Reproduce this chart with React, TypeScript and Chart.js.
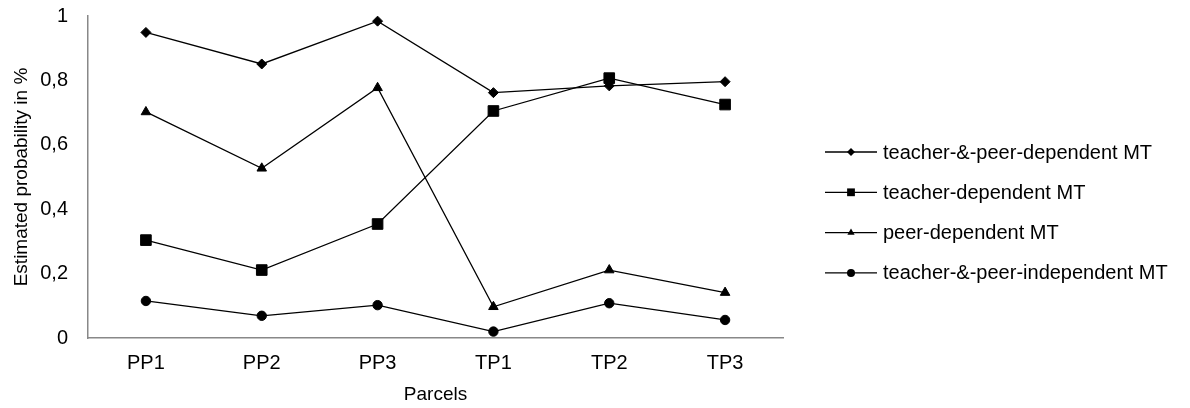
import React, { useEffect, useRef } from "react";
import { Chart, registerables } from "chart.js";

Chart.register(...registerables);

const categories = ["PP1", "PP2", "PP3", "TP1", "TP2", "TP3"];
const seriesNames = [
  "teacher-&-peer-dependent MT",
  "teacher-dependent MT",
  "peer-dependent MT",
  "teacher-&-peer-independent MT",
];
const teacherPeerDependent = [0.949, 0.851, 0.984, 0.762, 0.783, 0.796];
const teacherDependent = [0.304, 0.211, 0.354, 0.705, 0.807, 0.725];
const peerDependent = [0.702, 0.527, 0.777, 0.097, 0.211, 0.141];
const teacherPeerIndependent = [0.115, 0.069, 0.102, 0.02, 0.108, 0.056];
const yTickValues = [0, 0.2, 0.4, 0.6, 0.8, 1];

const FONT = "'Liberation Sans', Arial, sans-serif";

function drawMarker(ctx: CanvasRenderingContext2D, style: string, r: number, x: number, y: number) {
  ctx.beginPath();
  if (style === "rectRot") {
    ctx.moveTo(x, y - r);
    ctx.lineTo(x + r, y);
    ctx.lineTo(x, y + r);
    ctx.lineTo(x - r, y);
    ctx.closePath();
  } else if (style === "rect") {
    const s = r * Math.SQRT1_2;
    ctx.rect(x - s, y - s, 2 * s, 2 * s);
  } else if (style === "triangle") {
    for (let k = 0; k < 3; k++) {
      const a = (k * 2 * Math.PI) / 3;
      const px = x + Math.sin(a) * r;
      const py = y - Math.cos(a) * r;
      if (k === 0) ctx.moveTo(px, py);
      else ctx.lineTo(px, py);
    }
    ctx.closePath();
  } else {
    ctx.arc(x, y, r, 0, Math.PI * 2);
  }
  ctx.fill();
}

const legendPlugin = {
  id: "customLegend",
  afterDraw(chart: any) {
    const ctx = chart.ctx;
    const x0 = chart.chartArea.right + 42;
    const lineLen = 52;
    const yStart = 152;
    const step = 40.3;
    const legendRadius = [4, 5.5, 4.2, 4];
    chart.data.datasets.forEach((ds: any, i: number) => {
      const y = yStart + i * step;
      ctx.save();
      ctx.strokeStyle = "#000";
      ctx.lineWidth = 1.3;
      ctx.beginPath();
      ctx.moveTo(x0, y);
      ctx.lineTo(x0 + lineLen, y);
      ctx.stroke();
      ctx.fillStyle = "#000";
      drawMarker(ctx, ds.pointStyle, legendRadius[i], x0 + lineLen / 2, y);
      ctx.font = `20px ${FONT}`;
      ctx.textBaseline = "middle";
      ctx.textAlign = "left";
      ctx.fillText(ds.label, x0 + lineLen + 6, y + 1);
      ctx.restore();
    });
  },
};

export default function App() {
  const ref = useRef<HTMLCanvasElement>(null);
  useEffect(() => {
    if (!ref.current) return;
    const mk = (label: string, data: number[], style: string, r: number) => ({
      label,
      data,
      borderColor: "#000",
      backgroundColor: "#000",
      borderWidth: 1.3,
      pointStyle: style,
      pointRadius: r,
      pointBorderWidth: 1,
      pointBackgroundColor: "#000",
      pointBorderColor: "#000",
      tension: 0,
    });
    const chart = new Chart(ref.current, {
      type: "line",
      data: {
        labels: categories,
        datasets: [
          mk(seriesNames[0], teacherPeerDependent, "rectRot", 5),
          mk(seriesNames[1], teacherDependent, "rect", 7.5),
          mk(seriesNames[2], peerDependent, "triangle", 5.5),
          mk(seriesNames[3], teacherPeerIndependent, "circle", 4.7),
        ],
      },
      options: {
        animation: false,
        responsive: false,
        devicePixelRatio: 1,
        layout: { padding: { top: 0, right: 407, bottom: 0, left: 0 } },
        plugins: { legend: { display: false }, tooltip: { enabled: false } },
        scales: {
          x: {
            offset: true,
            grid: { display: false, drawTicks: false },
            border: { color: "#888", width: 1.5 },
            ticks: { color: "#000", font: { family: FONT, size: 20 }, padding: 13 },
            title: { display: true, text: "Parcels", color: "#000", font: { family: FONT, size: 19 }, padding: { top: 0, bottom: 2 } },
            afterFit: (s: any) => { s.height = 70; },
          },
          y: {
            min: 0,
            max: 1,
            afterBuildTicks: (s: any) => { s.ticks = yTickValues.map((v) => ({ value: v })); },
            grid: {
              display: true,
              drawOnChartArea: false,
              drawTicks: true,
              tickLength: 16,
              color: "rgba(0,0,0,0)",
              tickColor: "rgba(0,0,0,0)",
            },
            border: { display: true, color: "#888", width: 1.5 },
            ticks: {
              color: "#000",
              font: { family: FONT, size: 20 },
              padding: 4,
              callback: (v: any) => String(Math.round(Number(v) * 10) / 10).replace(".", ","),
            },
            title: { display: true, text: "Estimated probability in %", color: "#000", font: { family: FONT, size: 19 }, padding: { top: 10, bottom: 0 } },
            afterFit: (s: any) => { s.width = 88; },
          },
        },
      },
      plugins: [legendPlugin],
    } as any);
    return () => chart.destroy();
  }, []);
  return (
    <div style={{ position: "absolute", left: 0, top: 0, width: 1190, height: 408, background: "#fff" }}>
      <canvas ref={ref} width={1190} height={408} style={{ width: 1190, height: 408 }} />
    </div>
  );
}
